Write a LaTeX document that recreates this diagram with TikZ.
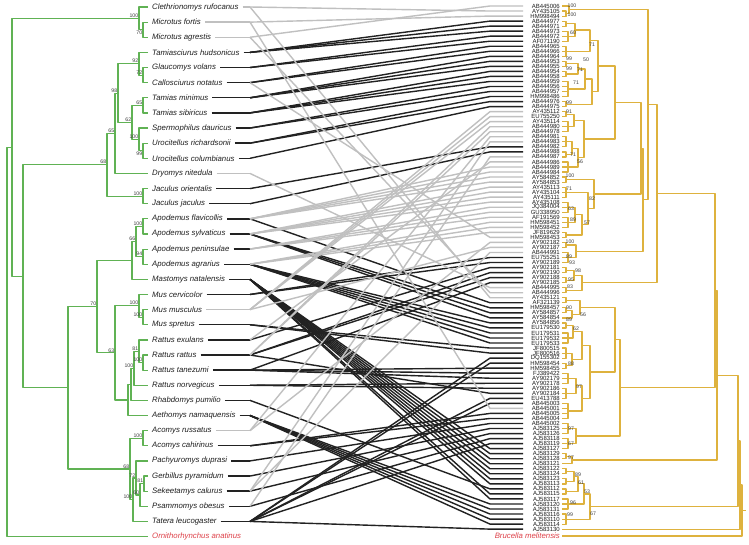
\documentclass[tikz,border=0pt]{standalone}
\usepackage{fontspec}
\setmainfont{Liberation Sans}
\definecolor{tg}{RGB}{96,178,84}
\definecolor{tau}{RGB}{222,178,62}
\definecolor{lg}{RGB}{192,192,192}
\definecolor{bk}{RGB}{34,34,34}
\definecolor{rd}{RGB}{222,64,72}
\definecolor{tx}{RGB}{30,30,30}
\tikzset{
  lt/.style={draw=tg, line width=1.2pt},
  rt/.style={draw=tau, line width=1.2pt},
  sp/.style={anchor=west, inner sep=0pt, font=\fontsize{7.8}{8}\selectfont\itshape, text=tx},
  rl/.style={anchor=east, inner sep=0pt, font=\fontsize{6.0}{6.2}\selectfont, text=tx},
  bsl/.style={inner sep=0.6pt, font=\fontsize{5.2}{5.5}\selectfont, text=tx!85},
  bsr/.style={inner sep=0pt, font=\fontsize{5.2}{5.5}\selectfont, text=tx!85},
  lnk/.style={line width=1.4pt}
}
\begin{document}
\begin{tikzpicture}[x=1pt,y=-1pt,line join=round,
  declare function={ry(\q)=6+5.03*(\q-1); ly(\q)=7+15.13*(\q-1);}]
\fill[white] (0,0) rectangle (749,544);
\useasboundingbox (0,0) rectangle (749,544);

% ---------------- species labels ----------------
\foreach \k/\t in {1/Clethrionomys rufocanus,2/Microtus fortis,3/Microtus agrestis,
 4/Tamiasciurus hudsonicus,5/Glaucomys volans,6/Callosciurus notatus,7/Tamias minimus,
 8/Tamias sibiricus,9/Spermophilus dauricus,10/Urocitellus richardsonii,
 11/Urocitellus columbianus,12/Dryomys nitedula,13/Jaculus orientalis,14/Jaculus jaculus,
 15/Apodemus flavicollis,16/Apodemus sylvaticus,17/Apodemus peninsulae,18/Apodemus agrarius,
 19/Mastomys natalensis,20/Mus cervicolor,21/Mus musculus,22/Mus spretus,23/Rattus exulans,
 24/Rattus rattus,25/Rattus tanezumi,26/Rattus norvegicus,27/Rhabdomys pumilio,
 28/Aethomys namaquensis,29/Acomys russatus,30/Acomys cahirinus,31/Pachyuromys duprasi,
 32/Gerbillus pyramidum,33/Sekeetamys calurus,34/Psammomys obesus,35/Tatera leucogaster}
 {\node[sp] (sp\k) at (152,{ly(\k)}) {\t};
  \coordinate (L\k) at (250,{ly(\k)});}
\node[sp, text=rd] (sp36) at (152,{ly(36)}) {Ornithorhynchus anatinus};

% ---------------- accession labels ----------------
\foreach \i/\t in {1/AB445006,2/AY435105,3/HM998494,4/AB444977,5/AB444971,6/AB444973,
 7/AB444972,8/AF071190,9/AB444965,10/AB444966,11/AB444964,12/AB444953,13/AB444955,
 14/AB444954,15/AB444958,16/AB444959,17/AB444956,18/AB444957,19/HM998486,20/AB444976,
 21/AB444975,22/AY435112,23/EU755250,24/AY435114,25/AB444980,26/AB444978,27/AB444981,
 28/AB444983,29/AB444982,30/AB444988,31/AB444987,32/AB444986,33/AB444989,34/AB444984,
 35/AY584852,36/AY584853,37/AY435113,38/AY435104,39/AY435111,40/AY435108,41/JQ384004,
 42/GU338950,43/AF191569,44/HM598451,45/HM598452,46/JF819629,47/HM598453,48/AY902182,
 49/AY902187,50/AB444991,51/EU755251,52/AY902189,53/AY902181,54/AY902190,55/AY902188,
 56/AY902185,57/AB444995,58/AB444996,59/AY435121,60/AF321139,61/HM598457,62/AY584857,
 63/AY584854,64/AY584856,65/EU179530,66/EU179531,67/EU179532,68/EU179533,69/JF800515,
 70/JF800516,71/DQ155302,72/HM598454,73/HM598455,74/FJ389422,75/AY902179,76/AY902178,
 77/AY902186,78/AY902184,79/EU413788,80/AB445003,81/AB445001,82/AB445005,83/AB445004,
 84/AB445002,85/AJ583125,86/AJ583126,87/AJ583118,88/AJ583119,89/AJ583127,90/AJ583129,
 91/AJ583128,92/AJ583121,93/AJ583122,94/AJ583124,95/AJ583123,96/AJ583113,97/AJ583112,
 98/AJ583115,99/AJ583117,100/AJ583120,101/AJ583131,102/AJ583116,103/AJ583110,
 104/AJ583114,105/AJ583130}
 {\node[rl] (r\i) at (560,{ry(\i)}) {\t};
  \coordinate (R\i) at (490,{ry(\i)});
  \coordinate (S\i) at (523,{ry(\i)});}
\node[rl, font=\fontsize{7.8}{8}\selectfont\itshape, text=rd] (r0) at (560,536) {Brucella melitensis};

% ---------------- connectors ----------------
\foreach \k in {4,5,6,7,8,9,10,11,13,14,15,16,17,18,19,20,22,23,24,25,26,27,28,30,31,32,33,34,35}
  \draw[lnk, draw=bk] ([xshift=4pt]sp\k.east) -- (L\k);
\foreach \i/\k in {4/4,5/4,6/4,7/5,8/5,9/6,10/6,11/7,12/7,13/7,14/8,15/8,16/8,17/9,18/9,
 19/10,20/10,21/11,29/13,30/14,51/20,52/20,53/23,54/24,55/24,56/25,60/15,61/16,62/16,63/16,
 64/18,65/18,66/18,67/18,68/18,69/22,70/22,71/35,72/35,73/25,74/25,75/25,76/26,77/26,78/24,
 79/35,80/35,82/30,83/30,84/31,85/32,86/33,87/34,88/35,89/19,90/19,91/19,92/19,93/19,94/19,
 95/19,96/19,97/27,98/19,99/19,100/28,101/28,102/28,103/28,104/28,105/35}
  \draw[lnk, draw=bk] (L\k) -- (R\i) -- (S\i);
\foreach \k in {1,2,3,12,21,29}
  \draw[lnk, draw=lg] ([xshift=4pt]sp\k.east) -- (L\k);
\foreach \i/\k in {1/3,2/1,3/2,22/21,23/21,24/21,25/24,26/24,27/29,28/33,31/34,32/23,
 33/15,34/15,35/15,36/15,37/16,38/16,39/16,40/16,41/17,42/17,43/17,44/18,45/18,46/18,
 47/6,48/29,49/21,50/33,57/12,58/3,59/1,81/2}
  \draw[lnk, draw=lg] (L\k) -- (R\i) -- (S\i);

% ---------------- host tree (green) ----------------
\draw[lt] (148,22.1) -| (143,37.3) -- (148,37.3);
\draw[lt] (148,7) -| (139,29.7) -- (143,29.7);
\draw[lt] (148,67.5) -| (143,82.7) -- (148,82.7);
\draw[lt] (148,52.4) -| (139,75.1) -- (143,75.1);
\draw[lt] (148,97.8) -| (143,112.9) -- (148,112.9);
\draw[lt] (148,143.2) -| (143,158.3) -- (148,158.3);
\draw[lt] (148,128) -| (139,150.75) -- (143,150.75);
\draw[lt] (143,105.35) -| (132,139.4) -- (139,139.4);
\draw[lt] (139,63.75) -| (118,122.4) -- (132,122.4);
\draw[lt] (118,93.1) -| (115,173.4) -- (148,173.4);
\draw[lt] (148,188.6) -| (143,203.7) -- (148,203.7);
\draw[lt] (115,133.25) -| (107,196.15) -- (143,196.15);
\draw[lt] (148,218.8) -| (143,234) -- (148,234);
\draw[lt] (148,249.1) -| (143,264.2) -- (148,264.2);
\draw[lt] (143,226.4) -| (136,256.65) -- (143,256.65);
\draw[lt] (136,241.5) -| (132,279.3) -- (148,279.3);
\draw[lt] (148,309.6) -| (143,324.7) -- (148,324.7);
\draw[lt] (148,294.5) -| (139,317.15) -- (143,317.15);
\draw[lt] (148,355) -| (143,370.1) -- (148,370.1);
\draw[lt] (148,339.9) -| (139,362.55) -- (143,362.55);
\draw[lt] (139,351.2) -| (134,385.3) -- (148,385.3);
\draw[lt] (134,368.25) -| (131,400.4) -- (148,400.4);
\draw[lt] (131,384.3) -| (128,415.5) -- (148,415.5);
\draw[lt] (139,305.8) -| (115,399.9) -- (128,399.9);
\draw[lt] (132,260.4) -| (97,352.85) -- (115,352.85);
\draw[lt] (148,430.6) -| (143,445.8) -- (148,445.8);
\draw[lt] (148,476) -| (144,491.2) -- (148,491.2);
\draw[lt] (144,483.6) -| (140,506.3) -- (148,506.3);
\draw[lt] (148,460.9) -| (136,494.95) -- (140,494.95);
\draw[lt] (136,477.9) -| (133,521.4) -- (148,521.4);
\draw[lt] (143,438.2) -| (130,499.65) -- (133,499.65);
\draw[lt] (97,306.6) -| (68,468.9) -- (130,468.9);
\draw[lt] (107,164.7) -| (23,387.75) -- (68,387.75);
\draw[lt] (139,18.35) -| (12,276.2) -- (23,276.2);
\draw[lt] (12,147.3) -| (7,536.5) -- (148,536.5);

\foreach \x/\y/\t/\a [count=\n] in {139/18.35/100/south east,143/29.7/70/north east,
 139/63.75/92/south east,143/75.1/72/south east,118/93.1/98/south east,
 143/105.35/65/south east,132/122.4/62/south east,139/139.4/100/south east,
 143/150.75/99/north east,115/133.25/65/south east,107/164.7/68/south east,
 143/196.15/100/south east,143/226.4/100/south east,136/241.5/66/south east,
 143/256.65/94/south east,97/306.6/70/south east,139/305.8/100/south east,
 143/317.15/100/south east,115/352.85/63/south east,139/351.2/81/south east,
 143/362.55/100/south east,134/368.25/100/south east,143/438.2/100/south east,
 130/468.9/68/south east,136/477.9/72/south east,144/483.6/81/south east,
 140/494.95/60/south east,133/499.65/100/south east}
 \node[bsl, anchor=\a] (lb\n) at (\x,\y) {\t};

% ---------------- parasite tree (gold) ----------------
\draw[rt] (562,11.0) -| (566,16.1) -- (562,16.1);
\draw[rt] (562,6.0) -| (569,13.55) -- (566,13.55);
\draw[rt] (562,21.1) -| (566,26.1) -- (562,26.1);
\draw[rt] (562,31.2) -| (568,41.2) -- (562,41.2); \draw[rt] (562,36.2) -- (568,36.2);
\draw[rt] (566,23.6) -| (575,36.2) -- (568,36.2);
\draw[rt] (562,46.2) -| (566,56.3) -- (562,56.3); \draw[rt] (562,51.3) -- (566,51.3);
\draw[rt] (575,29.9) -| (590,51.3) -- (566,51.3);
\draw[rt] (562,61.3) -| (566,66.4) -- (562,66.4);
\draw[rt] (562,71.4) -| (566,76.4) -- (562,76.4);
\draw[rt] (566,63.85) -| (578,73.9) -- (566,73.9);
\draw[rt] (562,81.5) -| (568,96.5) -- (562,96.5); \draw[rt] (562,86.5) -- (568,86.5); \draw[rt] (562,91.5) -- (568,91.5);
\draw[rt] (578,68.9) -| (585,89) -- (568,89);
\draw[rt] (562,101.6) -| (566,106.6) -- (562,106.6);
\draw[rt] (585,78.95) -| (592,104.1) -- (566,104.1);
\draw[rt] (590,40.6) -| (598,91.5) -- (592,91.5);
\draw[rt] (562,111.6) -| (566,116.7) -- (562,116.7);
\draw[rt] (562,121.7) -| (568,131.8) -- (562,131.8); \draw[rt] (562,126.7) -- (568,126.7);
\draw[rt] (566,114.15) -| (574,126.75) -- (568,126.75);
\draw[rt] (562,136.8) -| (566,146.8) -- (562,146.8); \draw[rt] (562,141.8) -- (566,141.8);
\draw[rt] (562,151.9) -| (566,156.9) -- (562,156.9);
\draw[rt] (566,141.8) -| (572,154.4) -- (566,154.4);
\draw[rt] (562,161.9) -| (568,172) -- (562,172); \draw[rt] (562,167) -- (568,167);
\draw[rt] (572,148.1) -| (578,167) -- (568,167);
\draw[rt] (574,120.45) -| (584,157.55) -- (578,157.55);
\draw[rt] (598,66.05) -| (615,139) -- (584,139);
\draw[rt] (562,177) -| (566,182.1) -- (562,182.1);
\draw[rt] (562,187.1) -| (566,197.1) -- (562,197.1); \draw[rt] (562,192.1) -- (566,192.1);
\draw[rt] (562,202.2) -| (568,212.2) -- (562,212.2); \draw[rt] (562,207.2) -- (568,207.2);
\draw[rt] (562,217.3) -| (568,227.3) -- (562,227.3); \draw[rt] (562,222.3) -- (568,222.3);
\draw[rt] (562,232.4) -| (566,237.4) -- (562,237.4);
\draw[rt] (568,207.2) -| (575,222.3) -- (568,222.3);
\draw[rt] (575,214.75) -| (582,234.9) -- (566,234.9);
\draw[rt] (566,192.1) -| (588,224.8) -- (582,224.8);
\draw[rt] (566,179.55) -| (594,208.45) -- (588,208.45);
\draw[rt] (615,102.5) -| (641,194) -- (594,194);
\draw[rt] (562,242.4) -| (566,247.4) -- (562,247.4);
\draw[rt] (562,252.5) -| (568,262.5) -- (562,262.5); \draw[rt] (562,257.5) -- (568,257.5);
\draw[rt] (566,244.9) -| (576,257.5) -- (568,257.5);
\draw[rt] (641,148.25) -| (643,251.2) -- (576,251.2);
\draw[rt] (569,9.8) -| (648,199.7) -- (643,199.7);
\draw[rt] (562,267.6) -| (566,272.6) -- (562,272.6);
\draw[rt] (562,277.6) -| (566,282.7) -- (562,282.7);
\draw[rt] (562,287.7) -| (566,292.7) -- (562,292.7);
\draw[rt] (566,270.1) -| (574,280.15) -- (566,280.15);
\draw[rt] (574,275.1) -| (582,290.2) -- (566,290.2);
\draw[rt] (648,104.75) -| (657,282.65) -- (582,282.65);
\draw[rt] (562,297.7) -| (566,302.8) -- (562,302.8);
\draw[rt] (562,307.8) -| (566,312.8) -- (562,312.8);
\draw[rt] (566,310.3) -| (572,317.9) -- (562,317.9);
\draw[rt] (566,300.25) -| (580,314.1) -- (572,314.1);
\draw[rt] (562,322.9) -| (566,327.9) -- (562,327.9);
\draw[rt] (562,333) -| (568,343) -- (562,343); \draw[rt] (562,338) -- (568,338);
\draw[rt] (566,325.4) -| (573,338) -- (568,338);
\draw[rt] (562,348) -| (566,358.1) -- (562,358.1); \draw[rt] (562,353.1) -- (566,353.1);
\draw[rt] (562,363.1) -| (566,368.2) -- (562,368.2);
\draw[rt] (566,353.1) -| (572,365.65) -- (566,365.65);
\draw[rt] (562,373.2) -| (568,383.3) -- (562,383.3); \draw[rt] (562,378.2) -- (568,378.2);
\draw[rt] (562,388.3) -| (566,398.3) -- (562,398.3); \draw[rt] (562,393.3) -- (566,393.3);
\draw[rt] (568,378.2) -| (576,393.3) -- (566,393.3);
\draw[rt] (562,403.4) -| (568,418.5) -- (562,418.5); \draw[rt] (562,408.4) -- (568,408.4); \draw[rt] (562,413.4) -- (568,413.4);
\draw[rt] (573,331.7) -| (582,359.4) -- (572,359.4);
\draw[rt] (576,385.75) -| (582,410.95) -- (568,410.95);
\draw[rt] (582,345.55) -| (590,398.35) -- (582,398.35);
\draw[rt] (580,307.2) -| (615,371.95) -- (590,371.95);
\draw[rt] (562,423.5) -| (568,433.6) -- (562,433.6); \draw[rt] (562,428.5) -- (568,428.5);
\draw[rt] (562,438.6) -| (568,448.6) -- (562,448.6); \draw[rt] (562,443.6) -- (568,443.6);
\draw[rt] (568,428.5) -| (576,443.6) -- (568,443.6);
\draw[rt] (615,339.6) -| (620,436.05) -- (576,436.05);
\draw[rt] (657,193.7) -| (715,387.8) -- (620,387.8);
\draw[rt] (562,453.7) -| (566,458.7) -- (562,458.7);
\draw[rt] (566,456.2) -| (572,463.7) -- (562,463.7);
\draw[rt] (715,290.75) -| (717,459.95) -- (572,459.95);
\draw[rt] (562,468.8) -| (566,473.8) -- (562,473.8);
\draw[rt] (562,478.8) -| (566,483.9) -- (562,483.9);
\draw[rt] (566,471.3) -| (574,481.35) -- (566,481.35);
\draw[rt] (562,488.9) -| (566,493.9) -- (562,493.9);
\draw[rt] (574,476.3) -| (578,491.4) -- (566,491.4);
\draw[rt] (562,498.9) -| (568,509) -- (562,509); \draw[rt] (562,504) -- (568,504);
\draw[rt] (578,483.85) -| (584,504) -- (568,504);
\draw[rt] (562,514) -| (566,524.1) -- (562,524.1); \draw[rt] (562,519.1) -- (566,519.1);
\draw[rt] (584,493.9) -| (590,519.1) -- (566,519.1);
\draw[rt] (717,375.35) -| (738,506.5) -- (590,506.5);
\draw[rt] (738,440.9) -| (740,529.1) -- (562,529.1);
\draw[rt] (740,485) -| (742,536) -- (562,536);
\draw[rt] (742,510.5) -- (746,510.5);

\foreach \x/\y/\t [count=\n] in {572/6/100,572/15/100,573/33/60,592/45/71,569/59/99,
 586/60/50,569/69/99,580/70/71,576/83/71,569/103/99,569/112/91,573/155/71,580/162/56,
 570/176/100,569/189/71,592/199/82,571/209/63,573/220/89,587/223/57,570/242/100,
 569/257/89,572/263/93,578/271/98,571/280/95,570/287/83,569/308/90,583/315/56,
 569/320/89,576/329/62,571/364/88,579/387/97,571/429/97,571/444/67,571/458/97,
 578/475/89,581/483/61,587/492/53,573/503/96,570/515/99,593/514/67}
 \node[bsr] (rb\n) at (\x,\y) {\t};
\end{tikzpicture}
\end{document}
